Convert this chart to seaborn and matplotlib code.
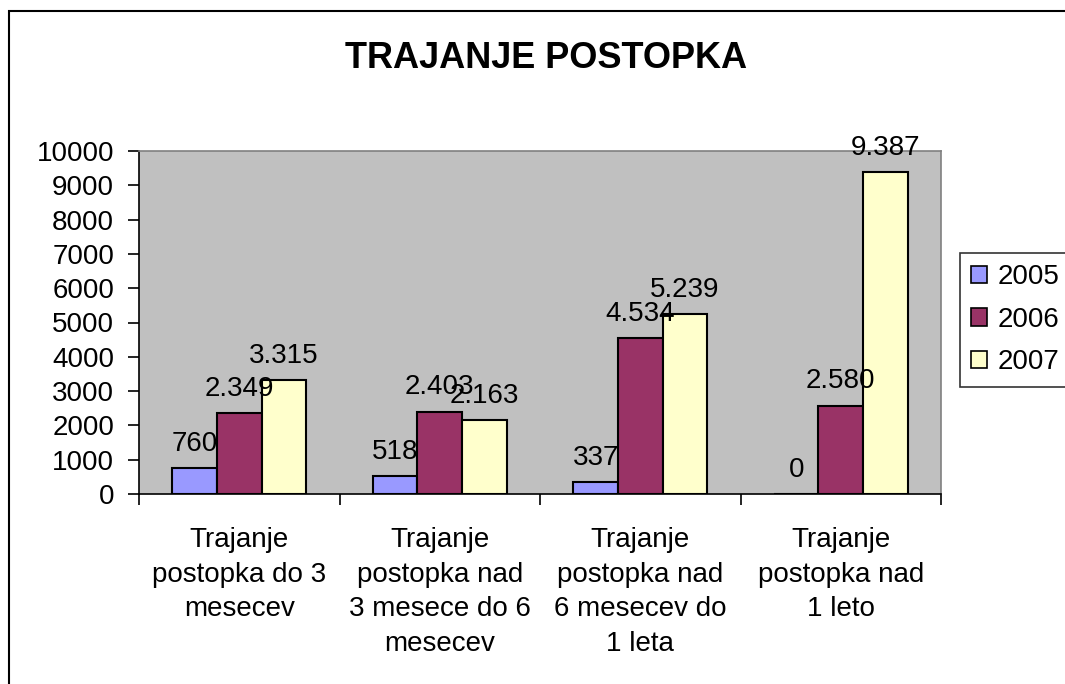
import numpy as np
import pandas as pd
import matplotlib.pyplot as plt
import seaborn as sns
from matplotlib.patches import Patch, Rectangle

# =========================
# DATA

categories = ["Trajanje\npostopka do 3\nmesecev",
              "Trajanje\npostopka nad\n3 mesece do 6\nmesecev",
              "Trajanje\npostopka nad\n6 mesecev do\n1 leta",
              "Trajanje\npostopka nad\n1 leto"]
years = ["2005", "2006", "2007"]
v2005 = [760, 518, 337, 0]
v2006 = [2349, 2403, 4534, 2580]
v2007 = [3315, 2163, 5239, 9387]
colors = ["#9999FF", "#993366", "#FFFFCC"]

df = pd.DataFrame({
    "kategorija": categories * 3,
    "leto": [y for y in years for _ in categories],
    "vrednost": v2005 + v2006 + v2007,
})

# =========================
# PLOT

sns.set_style("white")
plt.rcParams['font.family'] = ['Liberation Sans', 'DejaVu Sans']
plt.rcParams['text.color'] = 'black'
plt.rcParams['xtick.color'] = 'black'
plt.rcParams['ytick.color'] = 'black'

fig = plt.figure(figsize=(10.65, 6.84), dpi=100)
ax = fig.add_axes([139 / 1065, 1 - 494 / 684, (941 - 139) / 1065, (494 - 151) / 684])

sns.barplot(data=df, x="kategorija", y="vrednost", hue="leto", order=categories,
            hue_order=years, palette=colors, width=0.667, saturation=1,
            edgecolor="black", linewidth=1.5, ax=ax, legend=False)

ax.set_facecolor("#C0C0C0")
ax.set_xlim(-0.5, 3.5)
ax.set_ylim(0, 10000)
ax.set_yticks(np.arange(0, 10001, 1000))
ax.set_xlabel("")
ax.set_ylabel("")

# value labels
for cont in ax.containers:
    for bar in cont:
        h = bar.get_height()
        ax.annotate(f"{int(h):,}".replace(",", "."),
                    (bar.get_x() + bar.get_width() / 2, h),
                    xytext=(0, 8), textcoords="offset points",
                    ha="center", va="bottom", fontsize=20, color="black")

ax.tick_params(axis="y", direction="out", length=8, width=1.2, pad=10,
               labelsize=20, left=True, color="black", labelcolor="black")
ax.tick_params(axis="x", which="major", length=0, pad=24, labelsize=20,
               labelcolor="black")
ax.set_xticks(np.arange(-0.5, 3.6, 1), minor=True)
ax.tick_params(axis="x", which="minor", direction="out", length=8, width=1.2,
               bottom=True, color="black")
for lab in ax.get_xticklabels():
    lab.set_ha("center")
    lab.set_multialignment("center")
    lab.set_linespacing(1.42)

for s in ["left", "bottom"]:
    ax.spines[s].set_color("black")
    ax.spines[s].set_linewidth(1.2)
for s in ["top", "right"]:
    ax.spines[s].set_color("#808080")
    ax.spines[s].set_linewidth(1.2)

fig.text(546 / 1065, 1 - 58 / 684, "TRAJANJE POSTOPKA", ha="center", va="center",
         fontsize=26, fontweight="bold", color="black")

handles = [Patch(facecolor=c, edgecolor="black", linewidth=1.2) for c in colors]
leg = fig.legend(handles, years, loc="upper left",
                 bbox_to_anchor=(960 / 1065, 1 - 253 / 684), fontsize=20,
                 frameon=True, fancybox=False, handlelength=0.58, handleheight=0.58,
                 handletextpad=0.36, labelspacing=0.6, borderpad=0.4,
                 borderaxespad=0)
leg.get_frame().set_edgecolor("black")
leg.get_frame().set_linewidth(1.2)
for t in leg.get_texts():
    t.set_color("black")

# chart area border
fig.patches.append(Rectangle((9 / 1065, -0.1), 1.2, 1.1 - 11 / 684,
                             transform=fig.transFigure, fill=False,
                             edgecolor="black", linewidth=1.5))

fig.savefig("out.png", dpi=100)
